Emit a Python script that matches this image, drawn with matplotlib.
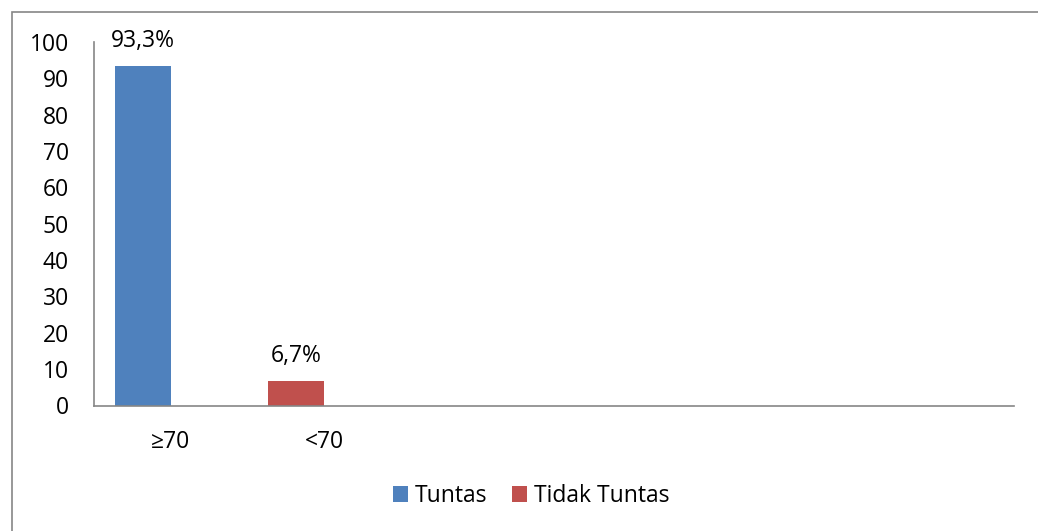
import matplotlib
matplotlib.use("Agg")
import matplotlib.pyplot as plt
from matplotlib.patches import Rectangle

# ─── Data ───────────────────────────────────────────────────
categories   = ["≥70", "<70", "", "", "", ""]
series_names = ["Tuntas", "Tidak Tuntas"]
series_vals  = [93.3, 6.7]          # one bar per series, in its own category
series_cat   = [0, 1]               # category index of each bar
value_labels = ["93,3%", "6,7%"]
colors       = ["#4F81BD", "#C0504D"]
yticks       = list(range(0, 101, 10))

AXIS_GRAY = "#868686"
TEXT_COL  = "#000000"
FS        = 16.5
BAR_W     = 0.365   # fraction of a category slot

plt.rcParams["font.family"] = ["Open Sans", "DejaVu Sans"]

fig = plt.figure(figsize=(10.38, 5.31), dpi=100)
ax = fig.add_axes([94 / 1038, 1 - 405.5 / 531, 920 / 1038, 363.5 / 531])

# Excel-style: bar sits just left of the category centre
for cat, val, name, col, lab in zip(series_cat, series_vals, series_names, colors, value_labels):
    x_left = cat + 0.5 - BAR_W
    ax.bar(x_left, val, width=BAR_W, align="edge", color=col, label=name)
    ax.annotate(lab, (x_left + BAR_W / 2, val), xytext=(0, 18), textcoords="offset points",
                ha="center", va="center", fontsize=FS, color=TEXT_COL)

ax.set_xlim(0, len(categories))
ax.set_ylim(0, 100)
ax.set_yticks(yticks)
ax.set_xticks([i + 0.5 for i in range(len(categories))])
ax.set_xticklabels(categories)
ax.tick_params(axis="both", length=0, labelsize=FS, colors=TEXT_COL)
ax.tick_params(axis="y", pad=18)
ax.tick_params(axis="x", pad=18)

for side in ["top", "right"]:
    ax.spines[side].set_visible(False)
for side in ["left", "bottom"]:
    ax.spines[side].set_color(AXIS_GRAY)
    ax.spines[side].set_linewidth(1.2)

leg = fig.legend(loc="center", bbox_to_anchor=(531 / 1038, 1 - 496 / 531), ncol=2,
                 frameon=False, fontsize=FS, handlelength=0.65, handleheight=0.65,
                 handletextpad=0.3, columnspacing=1.1)

# chart-area border (only top/left fall inside the picture)
fig.patches.append(Rectangle((12 / 1038, -0.1), 1.2, 1 - 12 / 531 + 0.1,
                             transform=fig.transFigure, fill=False,
                             edgecolor=AXIS_GRAY, linewidth=1.2))

plt.savefig("out.png", dpi=100)
plt.close()
